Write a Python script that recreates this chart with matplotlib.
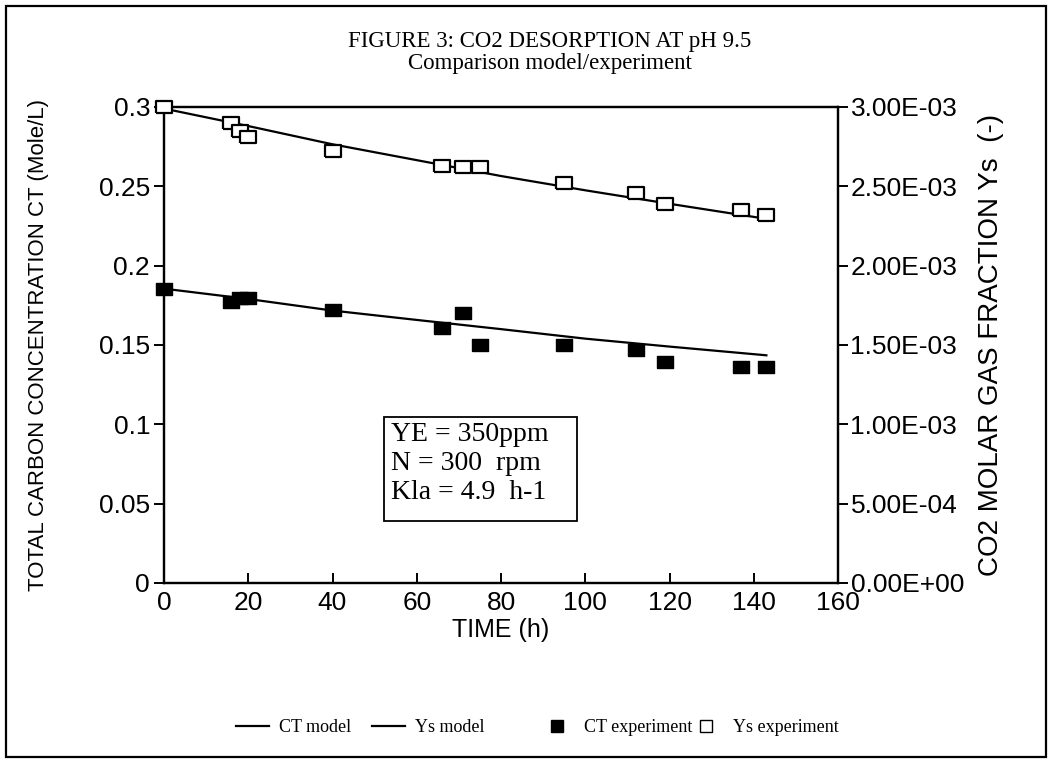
import numpy as np
import matplotlib
matplotlib.use("Agg")
import matplotlib.pyplot as plt
from matplotlib.lines import Line2D
from matplotlib.patches import Rectangle
from matplotlib.ticker import FuncFormatter

# data
t_exp = [0, 16, 18, 20, 40, 66, 71, 75, 95, 112, 119, 137, 143]
ct_exp = [0.1855, 0.177, 0.1796, 0.1796, 0.172, 0.1605, 0.170, 0.150, 0.150, 0.147, 0.1395, 0.136, 0.136]
ys_exp = [3.00e-3, 2.90e-3, 2.85e-3, 2.81e-3, 2.72e-3, 2.63e-3, 2.62e-3, 2.62e-3, 2.52e-3, 2.46e-3, 2.39e-3, 2.35e-3, 2.32e-3]

t_mod = [0, 20, 40, 60, 80, 100, 120, 143]
ct_mod = [0.1855, 0.179, 0.1717, 0.1658, 0.160, 0.154, 0.149, 0.1435]
ys_mod = [2.99e-3, 2.88e-3, 2.765e-3, 2.665e-3, 2.565e-3, 2.475e-3, 2.39e-3, 2.295e-3]

left_ticks = [0, 0.05, 0.1, 0.15, 0.2, 0.25, 0.3]
right_ticks = [0, 5e-4, 1e-3, 1.5e-3, 2e-3, 2.5e-3, 3e-3]
x_ticks = [0, 20, 40, 60, 80, 100, 120, 140, 160]

labels = ["CT model", "Ys model", "CT experiment", "Ys experiment"]
info = "YE = 350ppm\nN = 300  rpm\nKla = 4.9  h-1"

sans = ["Liberation Sans", "DejaVu Sans"]
serif = ["Liberation Serif", "DejaVu Serif"]

# wide rectangle marker like the plotter squares
box = [(-1.3, -1), (1.3, -1), (1.3, 1), (-1.3, 1), (-1.3, -1)]

fig = plt.figure(figsize=(10.52, 7.65), dpi=100)
ax = fig.add_axes([164/1052, 1-583/765, (838-164)/1052, (583-107)/765])
ax2 = ax.twinx()

ax.plot(t_mod, ct_mod, color="black", lw=1.6, zorder=3)
ax.plot(t_exp, ct_exp, ls="none", marker=box, ms=12, mfc="black", mec="black",
        zorder=4, clip_on=False)
ax2.plot(t_mod, ys_mod, color="black", lw=1.6, zorder=3)
ax2.plot(t_exp, ys_exp, ls="none", marker=box, ms=12, mfc="white", mec="black", mew=1.6,
         zorder=4, clip_on=False)

ax.set_xlim(0, 160)
ax.set_ylim(0, 0.3)
ax2.set_ylim(0, 3e-3)
ax.set_xticks(x_ticks)
ax.set_yticks(left_ticks)
ax2.set_yticks(right_ticks)
ax.yaxis.set_major_formatter(FuncFormatter(lambda v, p: "%g" % v))
ax2.yaxis.set_major_formatter(FuncFormatter(lambda v, p: "%.2E" % v))

for a in (ax, ax2):
    for s in a.spines.values():
        s.set_linewidth(1.6)
ax.tick_params(axis="x", direction="in", length=7, width=1.4, labelsize=19, pad=6)
ax.tick_params(axis="y", direction="out", length=7, width=1.4, labelsize=19, pad=3)
ax2.tick_params(axis="y", direction="out", length=7, width=1.4, labelsize=19, pad=2)
for lab in ax.get_xticklabels() + ax.get_yticklabels() + ax2.get_yticklabels():
    lab.set_family(sans)

ax.set_xlabel("TIME (h)", family=sans, fontsize=18, labelpad=2)
ax.set_ylabel("TOTAL CARBON CONCENTRATION CT (Mole/L)", family=sans, fontsize=16, labelpad=36)
ax2.set_ylabel("CO2 MOLAR GAS FRACTION Ys  (-)", family=sans, fontsize=20, labelpad=10)

fig.text(550/1052, 1-41/765, "FIGURE 3: CO2 DESORPTION AT pH 9.5", family=serif,
         fontsize=16.5, ha="center", va="center")
fig.text(550/1052, 1-64/765, "Comparison model/experiment", family=serif,
         fontsize=16.5, ha="center", va="center")

# parameter box
ax.add_patch(Rectangle((52.3, 0.0393), 45.8, 0.0652, fc="white", ec="black", lw=1.3, zorder=5))
ax.text(53.8, 0.1015, info, family=serif, fontsize=20, ha="left", va="top",
        linespacing=1.2, zorder=6)

handles = [Line2D([], [], color="black", lw=1.6),
           Line2D([], [], color="black", lw=1.6),
           Line2D([], [], ls="none", marker="s", ms=9, mfc="black", mec="black"),
           Line2D([], [], ls="none", marker="s", ms=9, mfc="white", mec="black")]
for h, lab, xp in zip(handles, labels, [236, 372, 541, 690]):
    leg = fig.legend([h], [lab], loc="center left", bbox_to_anchor=(xp/1052, 1-728/765),
                     frameon=False, prop={"family": serif, "size": 13}, handlelength=1.8,
                     handletextpad=0.6, borderpad=0, borderaxespad=0)

fig.patches.append(Rectangle((0.006, 0.01), 0.988, 0.982, transform=fig.transFigure,
                             fill=False, ec="black", lw=1.6))

fig.savefig("out.png", dpi=100)
